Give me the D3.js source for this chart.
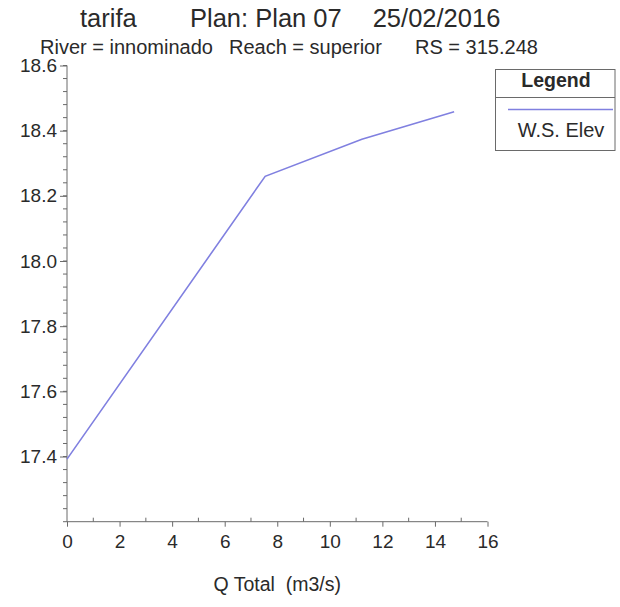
<!DOCTYPE html>
<html>
<head>
<meta charset="utf-8">
<script src="https://cdn.jsdelivr.net/npm/d3@7"></script>
<style>
  html, body { margin: 0; padding: 0; background: #fff; }
  svg { display: block; font-family: "Liberation Sans", Arial, sans-serif; }
</style>
</head>
<body>
<svg id="chart" width="620" height="607"></svg>
<script>
// ---- data ----
const qTotal = [0, 7.54, 11.22, 14.73];
const wsElev = [17.392, 18.26, 18.374, 18.458];
const xTickValues = [0, 2, 4, 6, 8, 10, 12, 14, 16];
const yTickValues = [17.4, 17.6, 17.8, 18.0, 18.2, 18.4, 18.6];
const titleParts = ["tarifa", "Plan: Plan 07", "25/02/2016"];
const subtitleParts = ["River = innominado", "Reach = superior", "RS = 315.248"];
const seriesName = "W.S. Elev";
const xLabel = "Q Total  (m3/s)";

// ---- layout ----
const svg = d3.select("#chart");
svg.append("rect").attr("width", 620).attr("height", 607).attr("fill", "#fff");

const x = d3.scaleLinear().domain([0, 16]).range([67, 487.5]);
const y = d3.scaleLinear().domain([17.2, 18.6]).range([521.7, 65.5]);

const axisColor = "#6a6a6a";
const textColor = "#2a2a2a";
const lineColor = "#8080e0";

// titles
const titleX = [80, 190, 372.7];
svg.selectAll("text.title").data(titleParts).join("text")
  .attr("class", "title")
  .attr("x", (d, i) => titleX[i]).attr("y", 27)
  .attr("font-size", 25.5).attr("fill", textColor)
  .text(d => d);

const subX = [40, 229, 415];
svg.selectAll("text.sub").data(subtitleParts).join("text")
  .attr("class", "sub")
  .attr("x", (d, i) => subX[i]).attr("y", 54)
  .attr("font-size", 20).attr("fill", textColor)
  .text(d => d);

// minor ticks
const yMinor = d3.range(17.2, 18.6001, 0.04);
svg.append("g").selectAll("line").data(yMinor).join("line")
  .attr("x1", x(0) - 4).attr("x2", x(0))
  .attr("y1", d => y(d)).attr("y2", d => y(d))
  .attr("stroke", axisColor).attr("stroke-width", 1);

const xMinor = d3.range(1, 16, 2);
svg.append("g").selectAll("line").data(xMinor).join("line")
  .attr("x1", d => x(d)).attr("x2", d => x(d))
  .attr("y1", y(17.2)).attr("y2", y(17.2) - 4)
  .attr("stroke", axisColor).attr("stroke-width", 1);

// axes
const yAxis = d3.axisLeft(y).tickValues(yTickValues).tickFormat(d3.format(".1f")).tickSize(7).tickPadding(3);
const gy = svg.append("g").attr("transform", `translate(${x(0)},0)`).call(yAxis);
gy.select(".domain").attr("stroke", axisColor).attr("d", `M0,${y(17.2)}V${y(18.6)}`);
gy.selectAll(".tick line").attr("stroke", axisColor);
gy.selectAll(".tick text").attr("font-size", 19).attr("fill", textColor)
  .attr("font-family", "Liberation Sans, Arial, sans-serif");

const xAxis = d3.axisBottom(x).tickValues(xTickValues).tickFormat(d3.format("d")).tickSize(5).tickPadding(8);
const gx = svg.append("g").attr("transform", `translate(0,${y(17.2)})`).call(xAxis);
gx.select(".domain").attr("stroke", axisColor).attr("d", `M${x(0)},0H${x(16)}`);
gx.selectAll(".tick line").attr("stroke", axisColor);
gx.selectAll(".tick text").attr("font-size", 19).attr("fill", textColor)
  .attr("font-family", "Liberation Sans, Arial, sans-serif");

// x label
svg.append("text").attr("x", (x(0) + x(16)) / 2).attr("y", 591)
  .attr("text-anchor", "middle").attr("font-size", 19.5).attr("fill", textColor)
  .style("white-space", "pre").attr("xml:space", "preserve")
  .text(xLabel);

// line
const pts = qTotal.map((q, i) => [q, wsElev[i]]);
svg.append("path").datum(pts)
  .attr("fill", "none").attr("stroke", lineColor).attr("stroke-width", 1.6)
  .attr("d", d3.line().x(d => x(d[0])).y(d => y(d[1])));

// legend
const lg = svg.append("g");
lg.append("rect").attr("x", 495.5).attr("y", 69.5).attr("width", 119.5).attr("height", 81)
  .attr("fill", "#fff").attr("stroke", axisColor).attr("stroke-width", 1);
lg.append("line").attr("x1", 495.5).attr("x2", 615).attr("y1", 97.5).attr("y2", 97.5)
  .attr("stroke", axisColor).attr("stroke-width", 1);
lg.append("text").attr("x", 556).attr("y", 87).attr("text-anchor", "middle")
  .attr("font-size", 19.5).attr("font-weight", "bold").attr("fill", textColor).text("Legend");
lg.append("line").attr("x1", 508).attr("x2", 613).attr("y1", 109.5).attr("y2", 109.5)
  .attr("stroke", lineColor).attr("stroke-width", 1.5);
lg.append("text").attr("x", 561).attr("y", 137).attr("text-anchor", "middle")
  .attr("font-size", 20).attr("fill", textColor).text(seriesName);
</script>
</body>
</html>
